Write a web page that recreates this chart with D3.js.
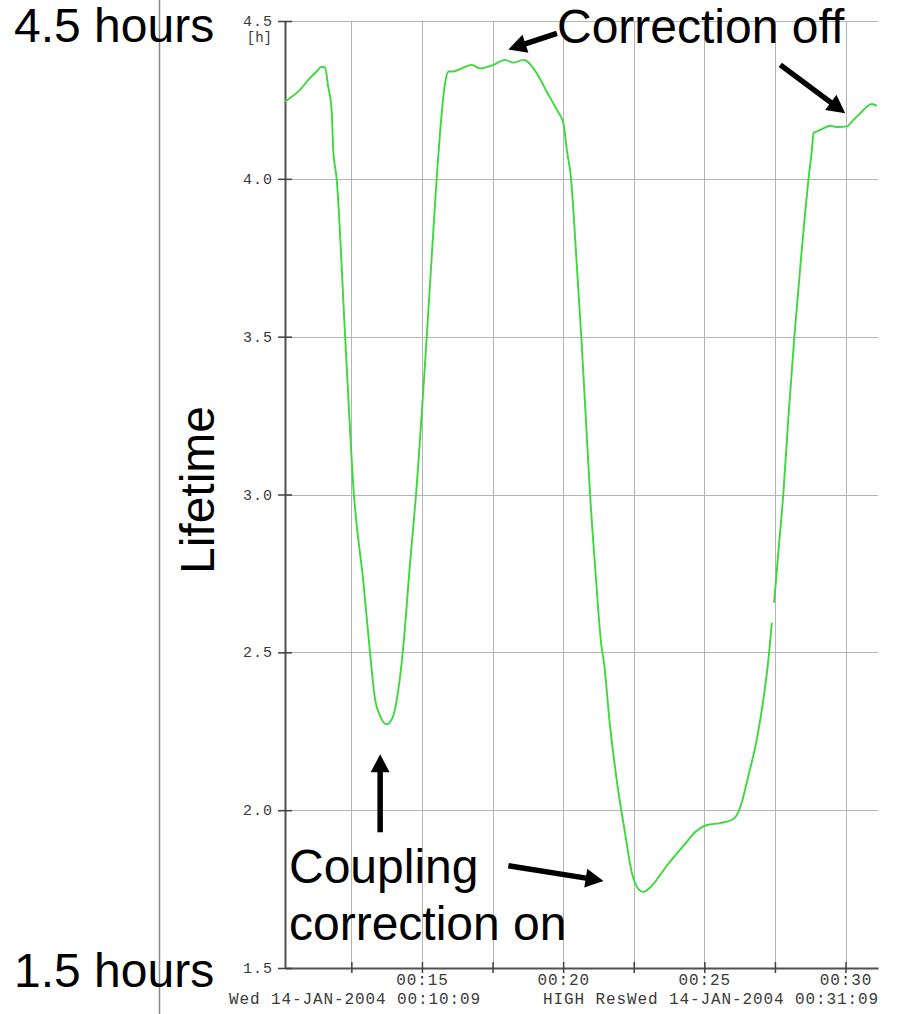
<!DOCTYPE html>
<html>
<head>
<meta charset="utf-8">
<script src="https://cdn.jsdelivr.net/npm/d3@7"></script>
<style>
  html, body { margin: 0; padding: 0; background: #fff; }
  svg { display: block; }
</style>
</head>
<body>
<svg id="chart" width="914" height="1014"></svg>
<script>
// Beam lifetime log, 14-JAN-2004 00:10:09 to 00:31:09.
// Time is given in minutes after midnight, lifetime in hours; null marks a dropout.
const minutes = [
  10.15, 10.33, 10.68, 11.04, 11.27, 11.45, 11.57, 11.68, 11.80, 11.86,
  11.98, 12.28, 12.59, 12.92, 13.16, 13.34, 13.52, 13.75, 13.98, 14.15,
  14.32, 14.58, 14.79, 15.17, 15.52, 15.64, 15.82, 15.94, 16.11, 16.41,
  16.76, 17.06, 17.53, 17.94, 18.24, 18.59, 18.71, 19.07, 19.42, 19.78,
  20.01, 20.13, 20.28, 20.45, 20.64, 20.80, 20.95, 21.13, 21.37, 21.43,
  21.66, 21.96, 22.19, 22.43, 22.67, 22.84, 23.08, 23.67, 24.26, 24.73,
  25.09, 25.56, 26.03, 26.27, 26.56, 26.86, 27.09, 27.27, 27.39, 27.43,
  27.47, 27.63, 27.80, 27.98, 28.19, 28.45, 28.69, 28.81, 28.87, 28.99,
  29.22, 29.46, 29.57, 29.75, 30.05, 30.28, 30.64, 30.76, 30.93, 31.11
];
const lifetimeHours = [
  4.245, 4.256, 4.282, 4.320, 4.340, 4.355, 4.352, 4.292, 4.218, 4.091,
  4.000, 3.500, 3.000, 2.727, 2.500, 2.351, 2.298, 2.272, 2.298, 2.373,
  2.500, 2.784, 3.000, 3.500, 4.000, 4.146, 4.304, 4.340, 4.340, 4.350,
  4.361, 4.350, 4.361, 4.377, 4.368, 4.377, 4.373, 4.334, 4.276, 4.218,
  4.176, 4.092, 4.000, 3.775, 3.503, 3.248, 3.005, 2.773, 2.510, 2.478,
  2.267, 2.056, 1.929, 1.803, 1.750, 1.741, 1.755, 1.824, 1.887, 1.935,
  1.953, 1.959, 1.972, 2.009, 2.109, 2.225, 2.351, 2.478, 2.594, null,
  2.657, 2.826, 3.005, 3.248, 3.503, 3.775, 4.000, 4.092, 4.145, 4.150,
  4.160, 4.168, 4.166, 4.164, 4.166, 4.187, 4.218, 4.229, 4.237, 4.231
];

const yTicks = [1.5, 2.0, 2.5, 3.0, 3.5, 4.0, 4.5];
const xTicks = [12.5, 15, 17.5, 20, 22.5, 25, 27.5, 30];
const xTickLabels = ["", "00:15", "", "00:20", "", "00:25", "", "00:30"];
const yUnit = "[h]";
const startStamp = "Wed 14-JAN-2004 00:10:09";
const endStamp = "HIGH ResWed 14-JAN-2004 00:31:09";
const timeSpan = [10.15, 31.15];
const lifetimeSpan = [1.5, 4.5];

// Annotation arrows, anchored in data units (minutes, hours)
const arrows = [
  { from: [19.78, 4.461], to: [18.06, 4.410] },
  { from: [27.69, 4.361], to: [29.99, 4.208] },
  { from: [13.52, 1.930], to: [13.52, 2.177] },
  { from: [18.06, 1.824], to: [21.43, 1.776] }
];

const data = minutes.map((m, i) => ({ t: m, v: lifetimeHours[i] }));

const svg = d3.select("#chart");
const plot = { left: 285, right: 878, top: 21, bottom: 968 };

const x = d3.scaleLinear().domain(timeSpan).range([plot.left, plot.right]);
const y = d3.scaleLinear().domain(lifetimeSpan).range([plot.bottom, plot.top]);

// Thin separator line on the left
svg.append("line")
  .attr("x1", 159.5).attr("x2", 159.5)
  .attr("y1", 0).attr("y2", 1014)
  .attr("stroke", "#8a8a8a").attr("stroke-width", 1.5);

// Grid
const grid = svg.append("g").attr("stroke", "#b4b4b4").attr("stroke-width", 1);
grid.selectAll("line.h").data(yTicks.filter(v => v > lifetimeSpan[0]))
  .join("line").attr("class", "h")
  .attr("x1", plot.left).attr("x2", plot.right)
  .attr("y1", d => Math.round(y(d)) + 0.5).attr("y2", d => Math.round(y(d)) + 0.5);
grid.selectAll("line.v").data(xTicks)
  .join("line").attr("class", "v")
  .attr("x1", d => Math.round(x(d)) + 0.5).attr("x2", d => Math.round(x(d)) + 0.5)
  .attr("y1", plot.top).attr("y2", plot.bottom);

const monoFont = "'Liberation Mono', 'Courier New', monospace";

// X axis
const xAxis = d3.axisBottom(x)
  .tickValues(xTicks)
  .tickFormat((d, i) => xTickLabels[i])
  .tickSizeOuter(0);
const gx = svg.append("g")
  .attr("transform", `translate(0,${plot.bottom})`)
  .call(xAxis);
gx.select(".domain").attr("stroke", "#505050").attr("stroke-width", 2);
gx.selectAll(".tick line").attr("y1", -6).attr("y2", 5)
  .attr("stroke", "#404040").attr("stroke-width", 1.5);
gx.selectAll(".tick text")
  .attr("y", 0).attr("dy", 0)
  .attr("transform", "translate(0,17)")
  .attr("font-family", monoFont).attr("font-size", 16)
  .attr("letter-spacing", 0.9)
  .attr("fill", "#3a3a3a");

// Y axis
const yAxis = d3.axisLeft(y)
  .tickValues(yTicks)
  .tickFormat(d3.format(".1f"))
  .tickSizeOuter(0);
const gy = svg.append("g")
  .attr("transform", `translate(${plot.left},0)`)
  .call(yAxis);
gy.select(".domain").attr("stroke", "#505050").attr("stroke-width", 2);
gy.selectAll(".tick line").attr("x1", -7).attr("x2", 7)
  .attr("stroke", "#404040").attr("stroke-width", 1.5);
gy.selectAll(".tick text")
  .attr("x", -12).attr("dy", "0.3em")
  .attr("font-family", monoFont).attr("font-size", 15)
  .attr("letter-spacing", 1)
  .attr("fill", "#3a3a3a");

// Unit label under the top tick
svg.append("text")
  .attr("x", plot.left - 13).attr("y", y(lifetimeSpan[1]) + 21)
  .attr("text-anchor", "end")
  .attr("font-family", monoFont).attr("font-size", 14)
  .attr("fill", "#3a3a3a")
  .text(yUnit);

// Time stamps under the axis
svg.append("text")
  .attr("x", 229).attr("y", 1003.5)
  .attr("font-family", monoFont).attr("font-size", 16)
  .attr("letter-spacing", 0.9)
  .attr("fill", "#3a3a3a")
  .text(startStamp);
svg.append("text")
  .attr("x", plot.right + 1).attr("y", 1003.5)
  .attr("text-anchor", "end")
  .attr("font-family", monoFont).attr("font-size", 16)
  .attr("letter-spacing", 0.9)
  .attr("fill", "#3a3a3a")
  .text(endStamp);

// Lifetime trace
const line = d3.line()
  .defined(d => d.v != null)
  .x(d => x(d.t))
  .y(d => y(d.v))
  .curve(d3.curveMonotoneX);
svg.append("path")
  .datum(data)
  .attr("fill", "none")
  .attr("stroke", "#3cd83c")
  .attr("stroke-width", 1.9)
  .attr("stroke-linejoin", "round")
  .attr("d", line);

// Annotation text
const sansFont = "'Liberation Sans', Arial, sans-serif";
const bigText = (tx, ty, s) => svg.append("text")
  .attr("x", tx).attr("y", ty)
  .attr("font-family", sansFont).attr("font-size", 48)
  .attr("fill", "#000")
  .text(s);
bigText(14, 42, "4.5 hours");
bigText(14, 987, "1.5 hours");
bigText(557, 43, "Correction off");
bigText(289, 883, "Coupling");
bigText(289, 940, "correction on");

svg.append("text")
  .attr("transform", "translate(214,490) rotate(-90)")
  .attr("text-anchor", "middle")
  .attr("font-family", sansFont).attr("font-size", 48)
  .attr("fill", "#000")
  .text("Lifetime");

// Arrows
const headLen = 18, headHalf = 9.5;
const ag = svg.append("g");
arrows.forEach(a => {
  const x0 = x(a.from[0]), y0 = y(a.from[1]);
  const x1 = x(a.to[0]), y1 = y(a.to[1]);
  const len = Math.hypot(x1 - x0, y1 - y0);
  const ux = (x1 - x0) / len, uy = (y1 - y0) / len;
  const bx = x1 - ux * headLen, by = y1 - uy * headLen;
  ag.append("line")
    .attr("x1", x0).attr("y1", y0)
    .attr("x2", bx + ux * 2).attr("y2", by + uy * 2)
    .attr("stroke", "#000").attr("stroke-width", 5.5);
  ag.append("path")
    .attr("d", `M${x1},${y1}L${bx - uy * headHalf},${by + ux * headHalf}L${bx + uy * headHalf},${by - ux * headHalf}Z`)
    .attr("fill", "#000");
});
</script>
</body>
</html>
